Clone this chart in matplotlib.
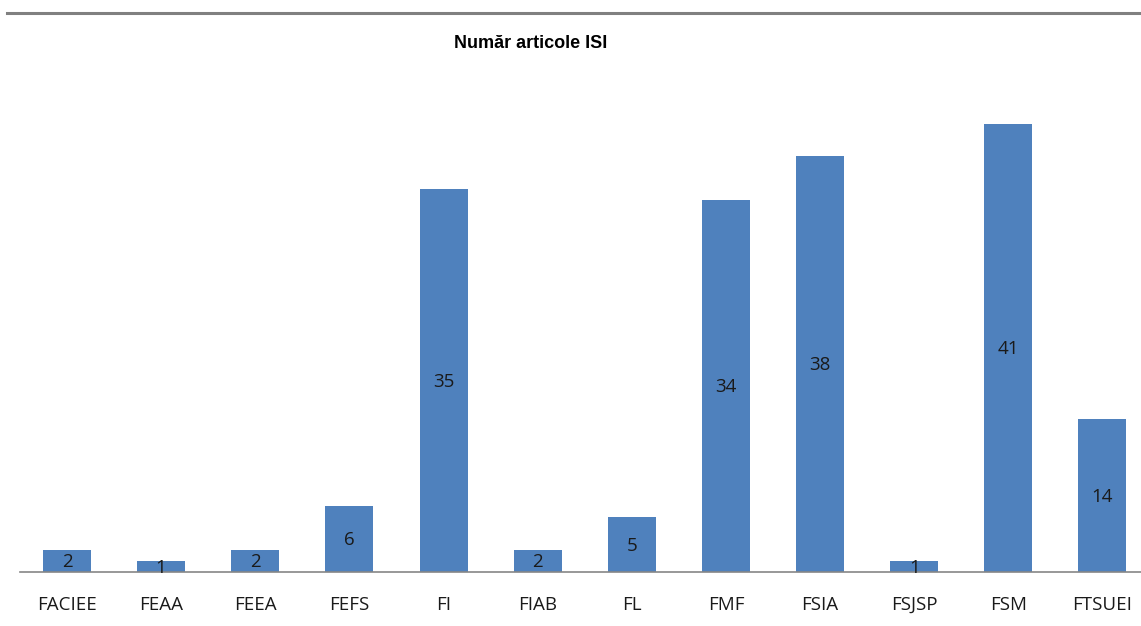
from matplotlib import pyplot as plt
from matplotlib.lines import Line2D

faculties = ["FACIEE", "FEAA", "FEEA", "FEFS", "FI", "FIAB", "FL", "FMF", "FSIA", "FSJSP", "FSM", "FTSUEI"]
articles = [2, 1, 2, 6, 35, 2, 5, 34, 38, 1, 41, 14]

plt.rcParams["font.family"] = ["Open Sans", "DejaVu Sans"]

fig = plt.figure(figsize=(11.41, 6.26), dpi=100)
ax = fig.add_axes([0.0175, 0.0863, 0.99, 0.786])

x = range(len(faculties))
bars = ax.bar(x, articles, width=0.51, color="#4F81BD", zorder=2)
for b, v in zip(bars, articles):
    ax.text(b.get_x() + b.get_width() / 2, v / 2 - 0.1, str(v), ha="center", va="center",
            fontsize=13.5, color="#1a1a1a", zorder=3)

ax.set_xlim(-0.5, 11.5)
ax.set_ylim(0, 45)
ax.set_xticks(list(x))
ax.set_xticklabels(faculties, fontsize=13.5, color="#1a1a1a")
ax.tick_params(axis="x", length=0, pad=17)
ax.set_yticks([])
for s in ["top", "right", "left"]:
    ax.spines[s].set_visible(False)
ax.spines["bottom"].set_color("#868686")
ax.spines["bottom"].set_linewidth(1.2)

# frame line at the top of the picture
fig.add_artist(Line2D([7 / 1141, 1], [1 - 12.5 / 626, 1 - 12.5 / 626], color="#808080", lw=2.2))

fig.text(531 / 1141, 1 - 43 / 626, "Număr articole ISI", ha="center", va="center",
         fontsize=13, fontweight="bold", family=["Liberation Sans Narrow", "Liberation Sans", "DejaVu Sans"])

fig.savefig("out.png", dpi=100)
